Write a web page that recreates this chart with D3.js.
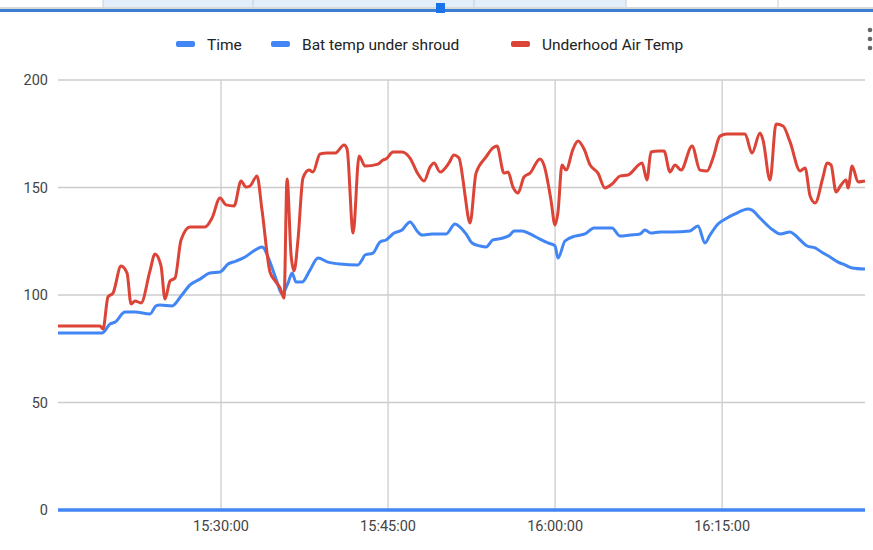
<!DOCTYPE html>
<html>
<head>
<meta charset="utf-8">
<script src="https://cdn.jsdelivr.net/npm/d3@7"></script>
<style>
  body { margin: 0; background: #fff; font-family: Roboto, Arial, sans-serif; }
</style>
</head>
<body>
<svg id="chart" width="873" height="550"></svg>
<script>
// minutes after 15:00
const redTimes = [15.36,19.13,19.40,19.85,20.30,21.02,21.56,21.92,22.28,22.82,23.62,24.07,24.61,24.97,25.42,25.87,26.41,27.22,27.76,28.56,29.19,29.91,30.45,31.17,31.80,32.24,32.60,33.23,33.68,34.40,34.94,35.30,35.66,35.93,36.29,36.56,36.91,37.36,37.90,38.26,38.89,39.52,40.24,41.05,41.32,41.86,42.40,42.93,44.10,44.55,44.82,45.45,46.25,46.97,47.69,48.23,48.77,49.13,49.67,50.47,50.92,51.37,51.73,51.91,52.36,52.90,53.80,54.42,54.78,55.41,55.77,56.22,56.67,57.21,57.75,58.64,59.00,59.63,59.99,60.26,60.62,60.98,61.61,62.06,62.60,63.14,63.85,64.48,65.11,65.83,66.55,67.81,68.25,68.61,69.33,69.78,70.32,70.77,71.31,72.30,73.01,73.64,74.18,74.81,75.44,76.61,77.06,77.68,78.40,78.67,79.30,79.84,80.47,81.10,82.00,82.45,82.90,83.35,84.06,84.42,84.78,85.23,85.68,86.13,86.31,86.67,87.21,87.83];
const underhoodTemp = [85.6,85.6,84.2,99.1,100.9,113.5,110.2,95.8,97.2,96.3,111.2,119.1,113.5,98.1,106.5,107.9,125.6,131.6,131.6,131.6,135.8,145.1,141.9,141.4,153.0,150.2,150.7,155.3,139.5,110.7,106.0,103.3,98.6,154.0,118.6,111.2,125.6,154.4,158.1,157.2,165.6,166.0,166.0,169.8,167.9,128.8,164.7,160.0,160.9,162.8,163.3,166.5,166.5,163.7,156.3,153.0,159.5,161.4,157.2,161.4,165.1,163.7,153.5,146.5,133.5,156.7,164.2,168.4,169.3,156.7,157.2,150.2,147.4,154.9,156.7,163.3,160.5,144.2,132.6,138.6,160.5,158.1,167.9,171.6,167.9,160.5,156.7,149.8,151.6,155.3,155.8,161.4,153.5,166.5,167.0,167.0,157.2,160.5,158.1,169.3,158.1,157.7,163.7,173.9,174.9,174.9,174.9,166.0,175.3,172.1,153.5,179.5,178.6,171.2,157.7,159.1,146.0,142.8,154.9,161.4,160.5,147.9,151.2,153.5,149.8,160.0,152.6,153.0];

const batTimes = [15.36,19.31,20.03,20.48,21.38,22.28,23.62,24.16,24.52,25.60,26.41,27.22,28.11,29.01,29.91,30.63,31.35,32.16,33.05,33.68,34.40,34.94,35.48,36.02,36.38,36.74,37.27,37.99,38.71,39.61,40.69,42.30,42.66,42.93,43.65,44.28,44.82,45.54,46.25,46.97,47.60,48.05,48.95,50.21,51.01,51.46,52.00,52.54,53.26,53.80,54.42,55.32,55.95,56.31,57.03,57.75,58.64,59.36,59.99,60.26,60.89,61.79,62.69,63.49,64.03,65.11,65.83,66.73,67.63,68.08,68.61,69.42,70.50,72.11,72.83,73.46,73.91,74.63,75.44,76.16,77.33,77.68,78.40,79.57,80.20,81.10,81.55,82.00,82.63,83.35,84.06,84.69,85.41,86.03,86.67,87.83];
const batTemp = [82.3,82.3,86.5,87.4,92.1,92.1,91.2,94.9,95.3,94.9,99.5,104.7,107.4,110.2,110.7,114.4,115.8,117.7,120.9,122.3,115.3,107.4,100.5,105.6,110.2,106.0,106.0,111.6,117.2,115.3,114.4,114.0,116.3,118.6,119.5,124.7,125.6,128.8,130.2,134.0,129.8,127.9,128.4,128.4,133.0,131.6,128.4,124.2,122.8,122.3,125.6,126.5,127.9,129.8,129.8,128.4,126.0,124.2,122.8,117.2,125.1,127.4,128.4,131.2,131.2,131.2,127.4,127.9,128.4,130.2,128.8,129.3,129.3,129.8,132.1,124.2,127.9,133.0,135.8,137.7,140.0,139.5,135.8,130.2,128.4,129.3,127.9,125.6,122.8,121.9,119.5,117.7,115.3,114.0,112.6,112.1];

const legendLabels = ['Time', 'Bat  temp under shroud', 'Underhood Air Temp'];
const legendColors = ['#4285f4', '#4285f4', '#db4437'];
const yTicks = [0, 50, 100, 150, 200];
const xTicks = [30, 45, 60, 75];
const xTickLabels = ['15:30:00', '15:45:00', '16:00:00', '16:15:00'];

const svg = d3.select('#chart');
const plotLeft = 58, plotRight = 865, plotTop = 80, plotBottom = 510;

// toolbar strip at the top
svg.append('rect').attr('x', 103).attr('y', 0).attr('width', 523).attr('height', 8).attr('fill', '#e3eefb');
[103, 253, 474, 626, 778].forEach((xx) => {
  svg.append('line').attr('x1', xx).attr('x2', xx).attr('y1', 0).attr('y2', 8).attr('stroke', '#c8ccd2');
});
svg.append('rect').attr('x', 0).attr('y', 7).attr('width', 873).attr('height', 2).attr('fill', '#d9d9d9');
svg.append('rect').attr('x', 0).attr('y', 9).attr('width', 873).attr('height', 3).attr('fill', '#3b7fd4');
svg.append('rect').attr('x', 436).attr('y', 3).attr('width', 9).attr('height', 10).attr('fill', '#1a73e8');

// menu dots
[30, 39, 48].forEach((cy) => svg.append('circle').attr('cx', 870).attr('cy', cy).attr('r', 2.3).attr('fill', '#666'));

const x = d3.scaleLinear().domain([15.36, 87.83]).range([plotLeft, plotRight]);
const y = d3.scaleLinear().domain([0, 200]).range([plotBottom, plotTop]);

// grid
svg.append('g').selectAll('line').data(yTicks).join('line')
  .attr('x1', plotLeft).attr('x2', plotRight).attr('y1', (d) => y(d)).attr('y2', (d) => y(d))
  .attr('stroke', '#cccccc').attr('stroke-width', 1.3);
svg.append('g').selectAll('line').data(xTicks).join('line')
  .attr('x1', (d) => x(d)).attr('x2', (d) => x(d)).attr('y1', plotTop).attr('y2', plotBottom)
  .attr('stroke', '#cccccc').attr('stroke-width', 1.3);

// tick labels
svg.append('g').selectAll('text').data(yTicks).join('text')
  .attr('x', 48).attr('y', (d) => y(d) + 5).attr('text-anchor', 'end')
  .attr('font-size', 14.5).attr('fill', '#444').text((d) => d);
svg.append('g').selectAll('text').data(xTicks).join('text')
  .attr('x', (d) => x(d)).attr('y', 531).attr('text-anchor', 'middle')
  .attr('font-size', 14.5).attr('fill', '#444').text((d, i) => xTickLabels[i]);

const line = d3.line().curve(d3.curveMonotoneX);
const drawSeries = (times, vals, color) => {
  svg.append('path')
    .attr('d', line(times.map((t, i) => [x(t), y(vals[i])])))
    .attr('fill', 'none').attr('stroke', color).attr('stroke-width', 3)
    .attr('stroke-linejoin', 'round');
};

// "Time" series sits on zero
svg.append('path')
  .attr('d', line([[x(15.36), y(0)], [x(87.83), y(0)]]))
  .attr('stroke', '#4285f4').attr('stroke-width', 3.5).attr('fill', 'none');
drawSeries(batTimes, batTemp, '#4285f4');
drawSeries(redTimes, underhoodTemp, '#db4437');

// legend
const legendX = [176, 271, 511];
legendLabels.forEach((lbl, i) => {
  svg.append('rect').attr('x', legendX[i]).attr('y', 41).attr('width', 19).attr('height', 6)
    .attr('rx', 2).attr('fill', legendColors[i]);
  svg.append('text').attr('x', legendX[i] + 31).attr('y', 49.5)
    .attr('font-size', 15.5).attr('fill', '#222').text(lbl);
});
</script>
</body>
</html>
